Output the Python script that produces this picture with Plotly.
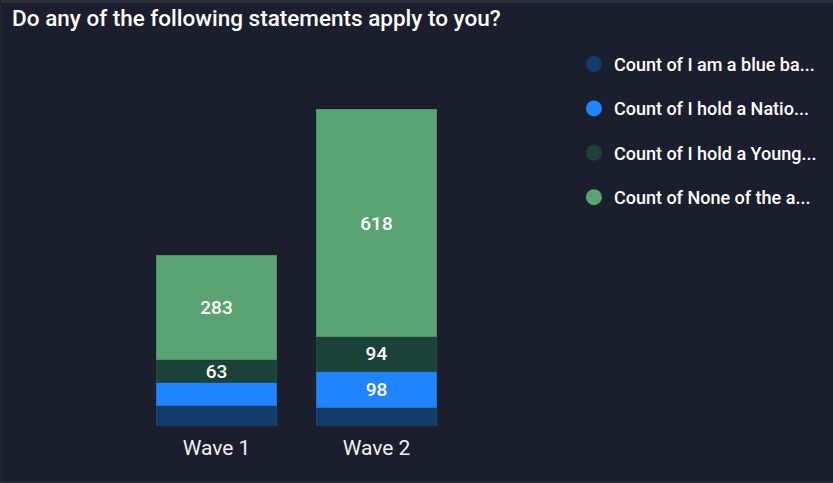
import plotly.graph_objects as go

categories = ["Wave 1", "Wave 2"]
series_names = [
    "Count of I am a blue ba...",
    "Count of I hold a Natio...",
    "Count of I hold a Young...",
    "Count of None of the a...",
]
blue_badge = [56, 51]
national = [61, 98]
young = [63, 94]
none_above = [283, 618]
series_values = [blue_badge, national, young, none_above]
# labels shown only where the original chart displays them
series_labels = [
    ["", ""],
    ["", "98"],
    ["63", "94"],
    ["283", "618"],
]
colors = ["#113d6b", "#1f85ff", "#1b4239", "#5aa372"]
line_colors = ["#1a4a7c", "#2a6fcc", "#234d44", "#4f8f66"]

BG = "#1a1e2d"
FONT = "Roboto"
W, H, T, B = 833, 483, 40, 57
PH = H - T - B  # plot-area height in px


def py(px_from_top):
    """convert a pixel row of the page to paper y"""
    return (H - B - px_from_top) / PH


fig = go.Figure()
for name, vals, labels, col, lc in zip(series_names, series_values, series_labels, colors, line_colors):
    fig.add_trace(go.Bar(
        x=categories, y=vals, name=name, text=labels,
        textposition="inside", insidetextanchor="middle", textangle=0,
        constraintext="none",
        textfont=dict(color="#ffffff", size=19, family=FONT, weight=500),
        marker=dict(color=col, line=dict(color=lc, width=1)),
        showlegend=False, hoverinfo="x+y+name",
    ))

for i, (name, col) in enumerate(zip(series_names, colors)):
    fig.add_trace(go.Scatter(
        x=[None], y=[None], mode="markers", name=name,
        marker=dict(color=col, size=16, symbol="circle"),
        legendgroup=f"g{i}", showlegend=True,
    ))

# thin frame around the visual (top band, left and bottom edges)
frame = [
    dict(x0=0, x1=1, y0=py(3), y1=py(0), fillcolor="#2b2e37"),
    dict(x0=0, x1=2 / W, y0=py(H), y1=py(0), fillcolor="#22252f"),
    dict(x0=0, x1=1, y0=py(H), y1=py(H - 2), fillcolor="#262a36"),
]
fig.update_layout(shapes=[
    dict(type="rect", xref="paper", yref="paper", line=dict(width=0), layer="below", **f)
    for f in frame
])

fig.update_layout(
    width=W, height=H,
    paper_bgcolor=BG, plot_bgcolor=BG,
    barmode="stack", bargap=0.244,
    margin=dict(l=0, r=0, t=T, b=B),
    font=dict(family=FONT, color="#ffffff"),
    title=dict(
        text="Do any of the following statements apply to you?",
        x=0.0145, xanchor="left", y=0.963, yanchor="middle",
        font=dict(size=22.5, color="#ffffff", family=FONT, weight=500),
    ),
    xaxis=dict(
        domain=[136.5 / W, 456.5 / W],
        range=[-0.5, 1.5],
        showgrid=False, zeroline=False, showline=False,
        tickfont=dict(size=21, color="#f0f0f0", family=FONT),
        ticks="outside", ticklen=3, tickcolor=BG,
    ),
    yaxis=dict(
        range=[0, 1050], visible=False, showgrid=False, zeroline=False,
    ),
    legend=dict(
        x=0.689, xanchor="left", y=0.985, yanchor="top",
        font=dict(size=18, color="#ffffff", family=FONT, weight=500),
        bgcolor="rgba(0,0,0,0)",
        tracegroupgap=18, itemwidth=30,
    ),
)

fig.write_html(
    "out.html",
    config={"displayModeBar": False},
    post_script="document.body.style.margin='0';document.body.style.background='%s';" % BG,
)
